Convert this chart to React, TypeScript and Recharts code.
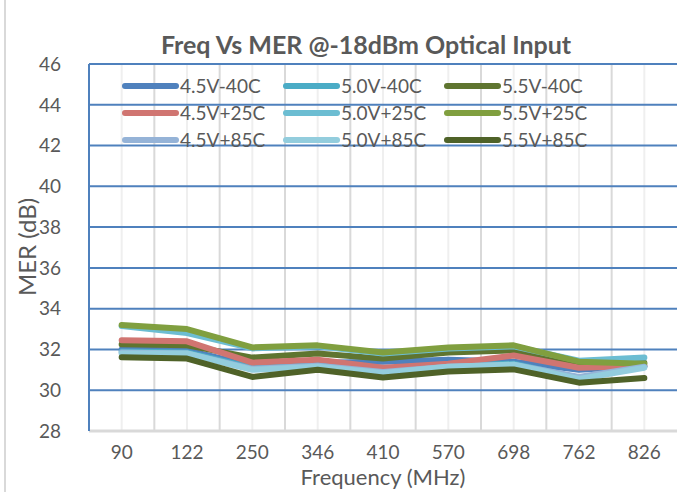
import React from 'react';
import { LineChart, Line, XAxis, YAxis, CartesianGrid } from 'recharts';

const categories = ['90', '122', '250', '346', '410', '570', '698', '762', '826'];
const yTicks = [28, 30, 32, 34, 36, 38, 40, 42, 44, 46];

const v45m40 = [32.0, 31.95, 31.2, 31.35, 31.4, 31.5, 31.4, 31.0, 31.2];
const v50m40 = [31.9, 31.85, 31.1, 31.25, 30.9, 31.2, 31.3, 30.6, 31.15];
const v55m40 = [32.25, 32.2, 31.6, 31.8, 31.55, 31.85, 31.95, 31.3, 31.35];
const v45p25 = [32.45, 32.4, 31.35, 31.5, 31.1, 31.3, 31.7, 31.1, 31.2];
const v50p25 = [33.15, 32.8, 32.05, 32.15, 31.8, 32.05, 32.15, 31.45, 31.6];
const v55p25 = [33.2, 33.0, 32.1, 32.2, 31.85, 32.1, 32.2, 31.4, 31.3];
const v45p85 = [31.85, 31.8, 31.05, 31.2, 30.9, 31.15, 31.25, 30.65, 31.15];
const v50p85 = [31.8, 31.8, 31.0, 31.15, 30.85, 31.15, 31.25, 30.55, 31.1];
const v55p85 = [31.62, 31.55, 30.65, 31.0, 30.62, 30.92, 31.02, 30.37, 30.6];

const seriesNames = ['4.5V-40C', '5.0V-40C', '5.5V-40C', '4.5V+25C', '5.0V+25C', '5.5V+25C', '4.5V+85C', '5.0V+85C', '5.5V+85C'];
const seriesValues = [v45m40, v50m40, v55m40, v45p25, v50p25, v55p25, v45p85, v50p85, v55p85];
const seriesColors = ['#4F81BD', '#4BACC6', '#5F7530', '#D07571', '#6CBDD2', '#809F3F', '#95B3D7', '#93CDDD', '#4F6228'];

const data = categories.map((c, i) => {
  const row: Record<string, any> = { freq: c };
  seriesNames.forEach((n, j) => { row[n] = seriesValues[j][i]; });
  return row;
});

const FONT = 'Lato, "Open Sans", sans-serif';
const TEXT = '#595959';

const LegendBox = () => (
  <div style={{ position: 'absolute', left: 121, top: 72, display: 'grid', gridTemplateColumns: 'repeat(3, 161px)' }}>
    {seriesNames.map((n, i) => (
      <div key={n} style={{ display: 'flex', alignItems: 'center', height: 27 }}>
        <svg width={59} height={10} style={{ display: 'block' }}>
          <line x1={4} y1={5} x2={55} y2={5} stroke={seriesColors[i]} strokeWidth={6} strokeLinecap="round" />
        </svg>
        <span style={{ fontFamily: FONT, fontSize: 19, color: TEXT, lineHeight: '27px' }}>{n}</span>
      </div>
    ))}
  </div>
);

const W = 689;
const H = 492;
const M = { top: 64, right: 12, bottom: 0, left: 0 };
const YW = 89;
const XH = 61;

export default function App() {
  const gridGen = (frac: number) => ({ offset }: any) => {
    const n = categories.length;
    const out: number[] = [];
    for (let i = 0; i < n; i++) out.push(offset.left + ((i + frac) * offset.width) / n);
    return out;
  };
  return (
    <div style={{ position: 'absolute', left: 0, top: 0, width: W, height: H, background: '#fff' }}>
      <div style={{ position: 'absolute', left: 4, top: 0, width: 2, height: H, background: '#D9D9D9' }} />
      <LineChart width={W} height={H} data={data} margin={M}>
        <CartesianGrid horizontal={false} vertical stroke="#EFEFEF" strokeWidth={2} verticalCoordinatesGenerator={gridGen(0.5)} />
        <CartesianGrid horizontal={false} vertical stroke="#D9D9D9" strokeWidth={2} verticalCoordinatesGenerator={gridGen(0)} />
        <CartesianGrid vertical={false} stroke="#4F81BD" strokeWidth={2} />
        <XAxis
          dataKey="freq"
          scale="band"
          height={XH}
          tickLine={false}
          axisLine={{ stroke: '#D9D9D9', strokeWidth: 3 }}
          tick={{ fill: TEXT, fontSize: 19, fontFamily: FONT }}
          tickMargin={9}
          interval={0}
        />
        <YAxis
          domain={[28, 46]}
          ticks={yTicks}
          width={YW}
          tickLine={false}
          axisLine={{ stroke: '#4F81BD', strokeWidth: 2 }}
          tick={{ fill: TEXT, fontSize: 19, fontFamily: FONT }}
          tickMargin={22}
          interval={0}
        />
        <YAxis yAxisId="r" orientation="right" width={0} domain={[28, 46]} tick={false} tickLine={false} axisLine={{ stroke: '#4F81BD', strokeWidth: 2 }} />
        {seriesNames.map((n, i) => (
          <Line
            key={n}
            type="linear"
            dataKey={n}
            stroke={seriesColors[i]}
            strokeWidth={6}
            strokeLinecap="round"
            strokeLinejoin="round"
            dot={false}
            activeDot={false}
            isAnimationActive={false}
          />
        ))}
      </LineChart>
      <LegendBox />
      <div style={{ position: 'absolute', left: 0, width: 732, top: 29, textAlign: 'center', fontFamily: FONT, fontWeight: 700, fontSize: 25, color: TEXT, lineHeight: '30px' }}>
        Freq Vs MER @-18dBm Optical Input
      </div>
      <div style={{ position: 'absolute', left: 89, width: 588, top: 466, textAlign: 'center', fontFamily: FONT, fontSize: 22, color: TEXT, lineHeight: '22px' }}>
        Frequency (MHz)
      </div>
      <div style={{ position: 'absolute', left: 27, top: 247, transform: 'translate(-50%, -50%) rotate(-90deg)', whiteSpace: 'nowrap', fontFamily: FONT, fontSize: 24, color: TEXT, lineHeight: '30px' }}>
        MER (dB)
      </div>
    </div>
  );
}
